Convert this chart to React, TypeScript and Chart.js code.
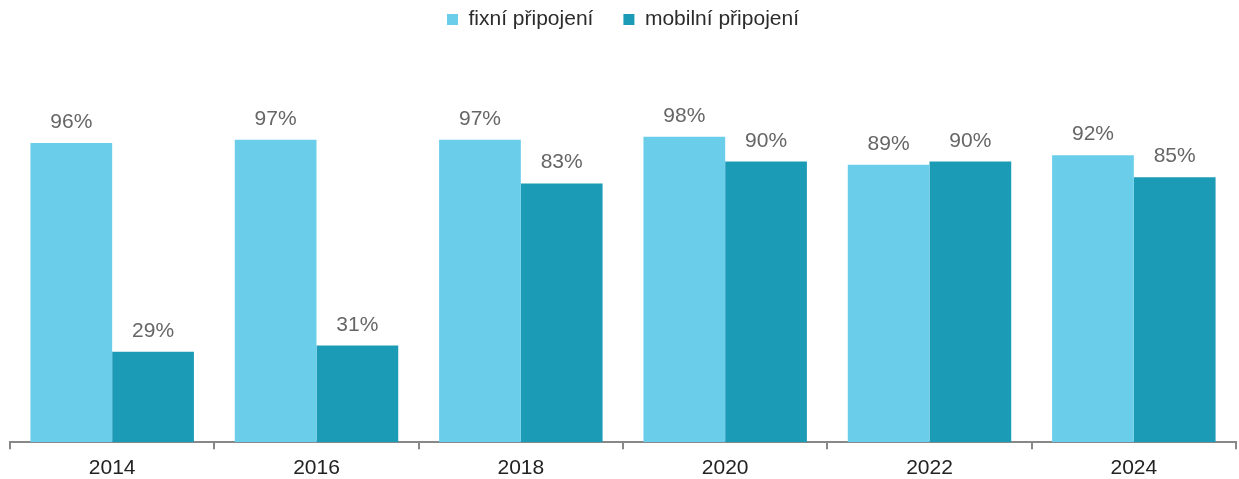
import React, { useEffect, useRef } from "react";
import { Chart, registerables } from "chart.js";

Chart.register(...registerables);

const categories = ["2014", "2016", "2018", "2020", "2022", "2024"];
const fixedValues = [96, 97, 97, 98, 89, 92];
const mobileValues = [29, 31, 83, 90, 90, 85];
const seriesNames = ["fixní připojení", "mobilní připojení"];

const FONT = "'Liberation Sans', Arial, sans-serif";

const valueLabels = {
  id: "valueLabels",
  afterDatasetsDraw(chart: any) {
    const ctx = chart.ctx;
    ctx.save();
    ctx.font = `21px ${FONT}`;
    ctx.fillStyle = "#666666";
    ctx.textAlign = "center";
    ctx.textBaseline = "alphabetic";
    chart.data.datasets.forEach((ds: any, di: number) => {
      const meta = chart.getDatasetMeta(di);
      meta.data.forEach((bar: any, i: number) => {
        ctx.fillText(`${ds.data[i]}%`, bar.x, bar.y - 15);
      });
    });
    ctx.restore();
  },
};

export default function App() {
  const ref = useRef<HTMLCanvasElement>(null);
  useEffect(() => {
    document.body.style.margin = "0";
    const chart = new Chart(ref.current!, {
      type: "bar",
      data: {
        labels: categories,
        datasets: [
          { label: seriesNames[0], data: fixedValues, backgroundColor: "#6ACEEB" },
          { label: seriesNames[1], data: mobileValues, backgroundColor: "#1B9BB5" },
        ],
      },
      plugins: [valueLabels],
      options: {
        animation: false,
        responsive: false,
        maintainAspectRatio: false,
        layout: { padding: { left: 10, right: 3, top: -21, bottom: -9 } },
        datasets: { bar: { categoryPercentage: 0.8, barPercentage: 1.0 } },
        plugins: {
          tooltip: { enabled: false },
          legend: {
            position: "top",
            labels: {
              font: { family: FONT, size: 21 },
              color: "#2b2b2b",
              boxWidth: 11,
              boxHeight: 11,
              padding: 30,
            },
          },
        },
        scales: {
          x: {
            grid: {
              display: true,
              drawOnChartArea: false,
              drawTicks: true,
              tickLength: 7,
              color: "#888888",
              lineWidth: 2,
              offset: true,
            },
            border: { display: true, color: "#888888", width: 2 },
            ticks: {
              font: { family: FONT, size: 21, lineHeight: 0.8 },
              color: "#222222",
              padding: 11,
            },
          },
          y: {
            display: false,
            min: 0,
            max: 129,
          },
        },
      },
    });
    return () => chart.destroy();
  }, []);
  return <canvas ref={ref} width={1239} height={479} style={{ display: "block" }} />;
}
